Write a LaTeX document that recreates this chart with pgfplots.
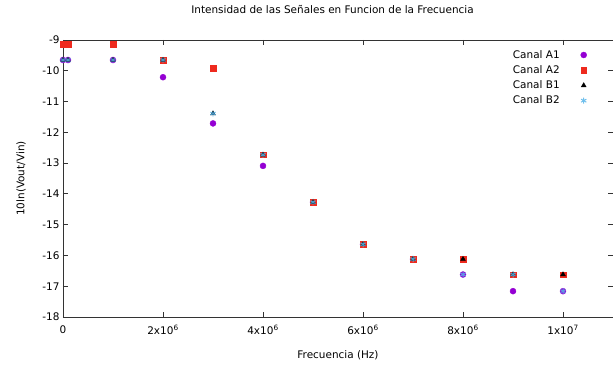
\documentclass[border=0pt]{standalone}
\usepackage{pgfplots}
\pgfplotsset{compat=1.18}
\usepackage{fontspec}
\setmainfont{DejaVu Sans}
\definecolor{cA1}{HTML}{9400D3}
\definecolor{cA2}{HTML}{EE2A1E}
\definecolor{cB2}{HTML}{56B4E9}
\begin{document}
\begin{tikzpicture}
\useasboundingbox (-63bp,-49bp) rectangle (550bp,317bp);
\begin{axis}[
  at={(0,0)}, anchor=south west,
  scale only axis, width=550bp, height=277bp,
  xmin=0, xmax=1.1e7, ymin=-18, ymax=-9,
  clip=false,
  scaled x ticks=false,
  font=\fontsize{10.5}{12}\selectfont,
  xtick={0,2e6,4e6,6e6,8e6,1e7},
  xticklabels={0,2x10\textsuperscript{6},4x10\textsuperscript{6},6x10\textsuperscript{6},8x10\textsuperscript{6},1x10\textsuperscript{7}},
  xticklabel style={yshift=-5bp},
  ytick={-18,-17,-16,-15,-14,-13,-12,-11,-10,-9},
  yticklabels={-18,-17,-16,-15,-14,-13,-12,-11,-10,-9},
  tick align=inside, major tick length=5bp,
  axis line style={black!80, line width=0.8pt},
  every tick/.style={black!80, line width=0.8pt},
  title={Intensidad de las Señales en Funcion de la Frecuencia},
  title style={at={(axis description cs:0.49,1.09)}, anchor=center},
  xlabel={Frecuencia (Hz)},
  xlabel style={at={(axis description cs:0.5,-0.137)}, anchor=center},
  ylabel={10ln(Vout/Vin)},
  ylabel style={at={(axis description cs:-0.076,0.5)}, anchor=center},
  legend style={draw=none, fill=none, at={(axis description cs:0.958,0.978)}, anchor=north east, row sep=1.8pt, column sep=19bp, font=\fontsize{10.5}{12}\selectfont},
  legend cell align=right,
  legend plot pos=right,
]
\addplot[only marks, mark=*, mark size=3bp, color=cA1] coordinates {
(0,-9.65) (1e5,-9.65) (1e6,-9.65) (2e6,-10.21) (3e6,-11.71) (4e6,-13.09) (5e6,-14.27) (6e6,-15.64) (7e6,-16.12) (8e6,-16.62) (9e6,-17.16) (1e7,-17.16)};
\addlegendentry{Canal A1}
\addplot[only marks, mark=square*, mark size=2.8bp, color=cA2] coordinates {
(0,-9.13) (1e5,-9.13) (1e6,-9.13) (2e6,-9.65) (3e6,-9.92) (4e6,-12.73) (5e6,-14.27) (6e6,-15.64) (7e6,-16.12) (8e6,-16.12) (9e6,-16.62) (1e7,-16.62)};
\addlegendentry{Canal A2}
\addplot[only marks, mark=triangle*, mark size=2.8bp, color=black] coordinates {
(0,-9.65) (1e5,-9.65) (1e6,-9.65) (2e6,-9.65) (3e6,-11.39) (4e6,-12.73) (5e6,-14.27) (6e6,-15.64) (7e6,-16.12) (8e6,-16.12) (9e6,-16.62) (1e7,-16.62)};
\addlegendentry{Canal B1}
\addplot[only marks, mark=asterisk, mark size=3bp, line width=1pt, color=cB2, opacity=0.85] coordinates {
(0,-9.65) (1e5,-9.65) (1e6,-9.65) (2e6,-9.65) (3e6,-11.39) (4e6,-12.73) (5e6,-14.27) (6e6,-15.64) (7e6,-16.12) (8e6,-16.62) (9e6,-16.62) (1e7,-17.16)};
\addlegendentry{Canal B2}
\end{axis}
\end{tikzpicture}
\end{document}
